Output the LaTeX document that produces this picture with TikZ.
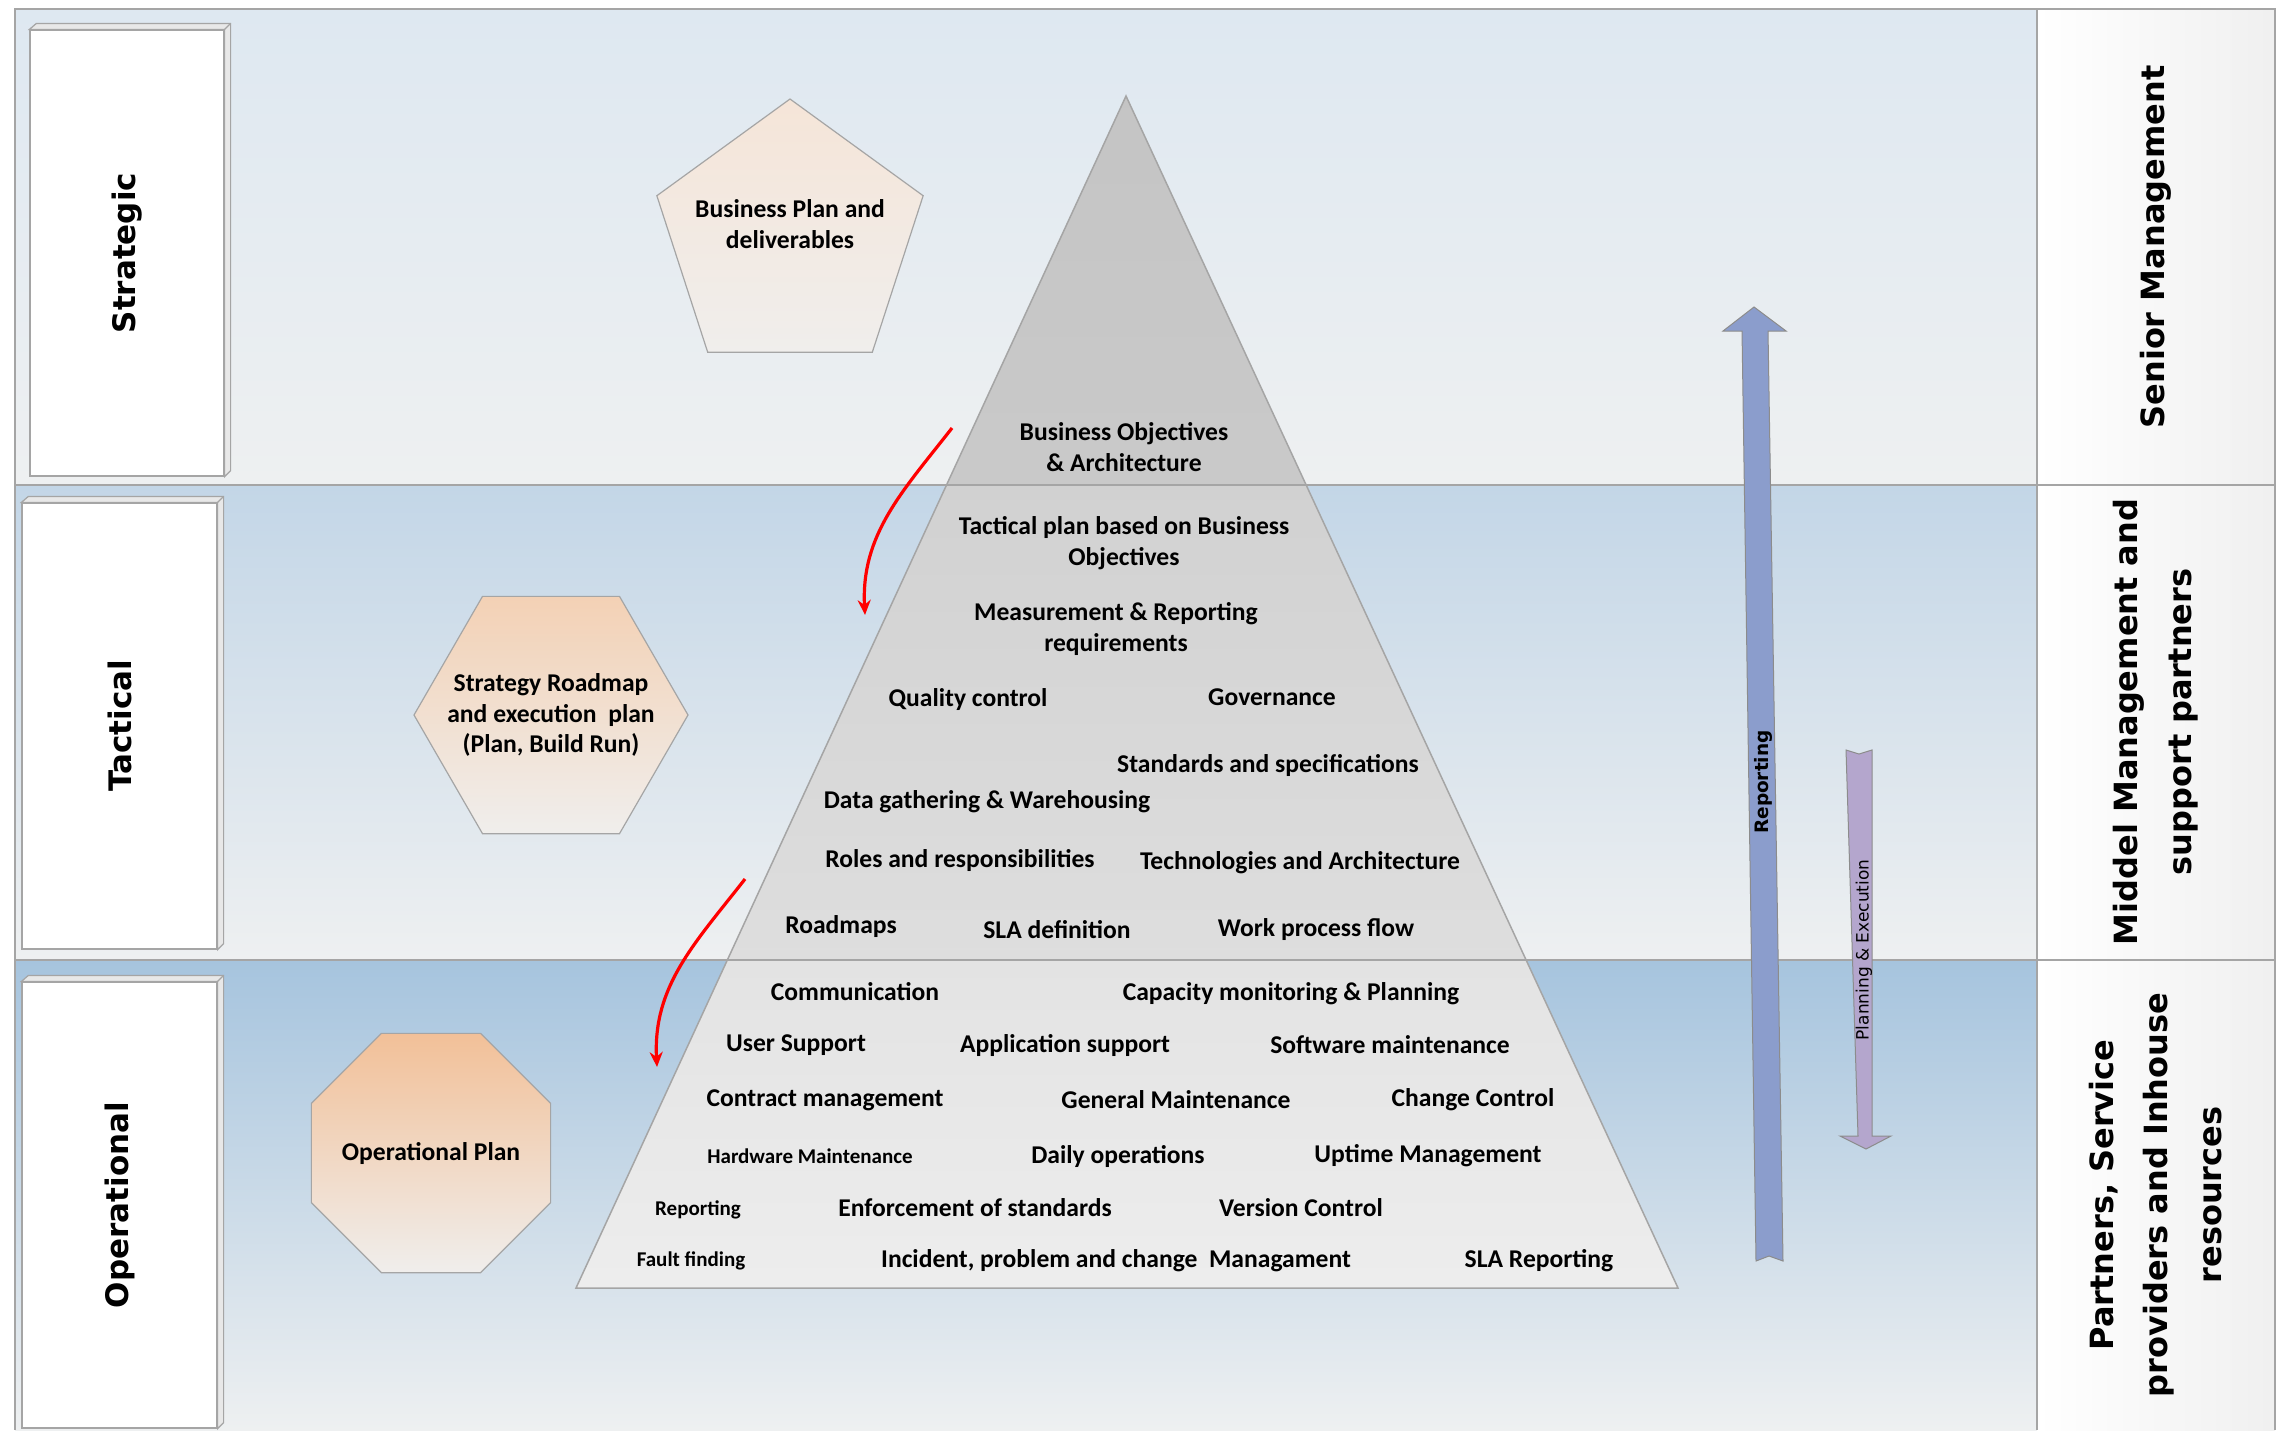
\documentclass[tikz,border=0pt]{standalone}
\usepackage{fontspec}
\setmainfont{Carlito}
\newfontfamily\verdfont{DejaVu Sans}
\usetikzlibrary{positioning,calc,shapes,arrows.meta}

\definecolor{bandTopS}{RGB}{222,232,241}
\definecolor{bandTopT}{RGB}{195,214,231}
\definecolor{bandTopO}{RGB}{166,196,222}
\definecolor{bandLow}{RGB}{238,240,241}
\definecolor{lineGray}{RGB}{165,165,165}
\definecolor{reportBlue}{RGB}{139,157,204}
\definecolor{planPurple}{RGB}{180,166,205}
\definecolor{peachA}{RGB}{245,229,216}
\definecolor{peachB}{RGB}{243,209,181}
\definecolor{peachC}{RGB}{242,192,152}
\definecolor{peachLow}{RGB}{240,238,236}

\tikzset {
    style Box/.style={
        fill=white,
        draw=lineGray,
        line width=1.2pt,
        rectangle, % Set the shape as a rectangle
        minimum width=194pt,
        minimum height=446pt,
    },
    style Bevel/.style={
        fill=black!9,
        draw=lineGray,
        line width=1.2pt,
    },
    style Level/.style={
        font=\verdfont\bfseries\fontsize{31}{37}\selectfont,
        rotate=90,
    },
    style Role/.style={
        font=\verdfont\bfseries\fontsize{32}{54}\selectfont,
        rotate=90,
        align=center,
    },
    style Plan/.style={
        draw=lineGray,
        line width=1.2pt,
        regular polygon, % Set the shape as a regular polygon
        inner sep=0pt,
        bottom color=peachLow,
    },
    style Item/.style={
        font=\bfseries\fontsize{25.6}{30.6}\selectfont,
        inner sep=0pt,
        align=center,
    },
    style Small/.style={
        font=\bfseries\fontsize{21}{25}\selectfont,
        inner sep=0pt,
    },
    style Tag/.style={
        font=\verdfont\bfseries\fontsize{18.5}{22}\selectfont,
        inner sep=0pt,
        rotate=90,
    },
    style Pole/.style={
        draw=black!45,
        line width=1pt,
    },
    style Flow/.style={
        draw=red,
        line width=3.2pt,
        -{Stealth[length=15pt,width=13pt]},
    },
}

\begin{document}
\begin{tikzpicture}[x=1pt, y=1pt]
\useasboundingbox (0,0) rectangle (2285,-1430);
\fill[white] (0,0) rectangle (2285,-1430);

\shade[top color=bandTopS, bottom color=bandLow] (15,-9) rectangle (2037,-485);
\shade[top color=bandTopT, bottom color=bandLow] (15,-485) rectangle (2037,-960);
\shade[top color=bandTopO, bottom color=bandLow] (15,-960) rectangle (2037,-1430);
\shade[left color=white, right color=black!6] (2037,-9) rectangle (2275,-1430);

\coordinate (apex) at (1126,-96);
\coordinate (baseL) at (576,-1288);
\coordinate (baseR) at (1678,-1288);
\coordinate (cutL1) at ($(apex)!0.3263!(baseL)$);
\coordinate (cutR1) at ($(apex)!0.3263!(baseR)$);
\coordinate (cutL2) at ($(apex)!0.7248!(baseL)$);
\coordinate (cutR2) at ($(apex)!0.7248!(baseR)$);
\shade[top color=black!23, bottom color=black!21] (apex) -- (cutR1) -- (cutL1) -- cycle;
\shade[top color=black!18, bottom color=black!13] (cutL1) -- (cutR1) -- (cutR2) -- (cutL2) -- cycle;
\shade[top color=black!11, bottom color=black!7] (cutL2) -- (cutR2) -- (baseR) -- (baseL) -- cycle;
\draw[lineGray, line width=1.5pt] (apex) -- (baseR) -- (baseL) -- cycle;

\draw[lineGray, line width=2pt] (15,-485) -- (2275,-485);
\draw[lineGray, line width=2pt] (15,-960) -- (2275,-960);
\draw[lineGray, line width=1.5pt] (2037,-9) -- (2037,-1430);
\draw[lineGray, line width=1.5pt] (15,-1430) -- (15,-9) -- (2275,-9) -- (2275,-1430);

\node[style Box] (strategicBox) at (127,-253) {};
\node[style Box, minimum width=195pt] (tacticalBox) at (119.5,-726) {};
\node[style Box, minimum width=195pt] (operationalBox) at (119.5,-1205) {};
\draw[style Bevel] (strategicBox.north west) -- ++(7,6) -| ([shift={(6,6)}]strategicBox.south east) -- (strategicBox.south east) -- (strategicBox.north east) -- cycle;
\draw[style Bevel] (tacticalBox.north west) -- ++(7,6) -| ([shift={(6,6)}]tacticalBox.south east) -- (tacticalBox.south east) -- (tacticalBox.north east) -- cycle;
\draw[style Bevel] (operationalBox.north west) -- ++(7,6) -| ([shift={(6,6)}]operationalBox.south east) -- (operationalBox.south east) -- (operationalBox.north east) -- cycle;
\draw[lineGray, line width=1.2pt] (strategicBox.north east) -- ++(6,6);
\draw[lineGray, line width=1.2pt] (tacticalBox.north east) -- ++(6,6);
\draw[lineGray, line width=1.2pt] (operationalBox.north east) -- ++(6,6);
\node[style Level] (strategic) at (strategicBox) {Strategic};
\node[style Level] (tactical) at (tacticalBox) {Tactical};
\node[style Level] (operational) at (operationalBox) {Operational};

\node[style Role] (senior) at (2156,-247) {Senior Management};
\node[style Role] (middel) at (2156,-722) {Middel Management and\\support partners};
\node[style Role] (partners) at (2156,-1195) {Partners, Service\\providers and Inhouse\\resources};

\node[style Plan, regular polygon sides=5, minimum size=280pt, top color=peachA] (bizPlan) at (790,-239) {};
\node[style Item] (bizPlanText) at (790,-224) {Business Plan and\\deliverables};
\node[style Plan, regular polygon sides=6, minimum size=274pt, top color=peachB] (roadmapPlan) at (551,-715) {};
\node[style Item] (roadmapText) at (roadmapPlan) {Strategy Roadmap\\and execution\ \ plan\\(Plan, Build Run)};
\node[style Plan, regular polygon sides=8, minimum size=259pt, top color=peachC] (opPlan) at (431,-1153) {};
\node[style Item] (opPlanText) at (opPlan) {Operational Plan};

\node[style Item] (bizObj) at (1124,-447) {Business Objectives\\\& Architecture};
\node[style Item] (tactPlan) at (1124,-543) {Tactical plan based on Business\\Objectives};
\node[style Item] (measReq) at (1116,-629) {Measurement \& Reporting\\requirements};
\node[style Item] (qualCtrl) at (968,-700) {Quality control};
\node[style Item] (governance) at (1272,-697) {Governance};
\node[style Item] (standards) at (1268,-765) {Standards and specifications};
\node[style Item] (dataGather) at (987,-802) {Data gathering \& Warehousing};
\node[style Item] (roles) at (960,-860) {Roles and responsibilities};
\node[style Item] (techArch) at (1300,-863) {Technologies and Architecture};
\node[style Item] (roadmaps) at (841,-927) {Roadmaps};
\node[style Item] (slaDef) at (1057,-930) {SLA definition};
\node[style Item] (workFlow) at (1316,-930) {Work process flow};
\node[style Item] (comm) at (855,-992) {Communication};
\node[style Item] (capacity) at (1291,-994) {Capacity monitoring \& Planning};
\node[style Item] (userSupport) at (796,-1045) {User Support};
\node[style Item] (appSupport) at (1065,-1045) {Application support};
\node[style Item] (swMaint) at (1390,-1045) {Software maintenance};
\node[style Item] (contract) at (825,-1100) {Contract management};
\node[style Item] (genMaint) at (1176,-1100) {General Maintenance};
\node[style Item] (changeCtrl) at (1473,-1100) {Change Control};
\node[style Small] (hwMaint) at (810,-1156) {Hardware Maintenance};
\node[style Item] (dailyOps) at (1118,-1156) {Daily operations};
\node[style Item] (uptime) at (1428,-1156) {Uptime Management};
\node[style Small] (reportSmall) at (698,-1210) {Reporting};
\node[style Item] (enforce) at (975,-1208) {Enforcement of standards};
\node[style Item] (versionCtrl) at (1301,-1208) {Version Control};
\node[style Small] (faultFind) at (691,-1261) {Fault finding};
\node[style Item] (incident) at (1116,-1261) {Incident, problem and change\ \ Managament};
\node[style Item] (slaRep) at (1539,-1261) {SLA Reporting};

\draw[style Pole, fill=reportBlue] (1754,-307) -- (1786,-331) -- (1768,-331) -- (1783,-1261) -- (1769,-1256) -- (1756,-1261) -- (1742,-331) -- (1723,-331) -- cycle;
\node[style Tag] (reporting) at (1763,-782) {Reporting};
\draw[style Pole, fill=planPurple] (1846,-750) -- (1859,-754) -- (1872,-750) -- (1872,-1136) -- (1891,-1136) -- (1866,-1149) -- (1840,-1136) -- (1858,-1136) -- cycle;
\node[style Tag, font=\verdfont\fontsize{17}{20}\selectfont] (planning) at (1864,-950) {Planning \& Execution};

\coordinate (flowA) at (952,-428);
\coordinate (flowB) at (865,-615);
\coordinate (flowC) at (745,-879);
\coordinate (flowD) at (657,-1067);
\draw[style Flow] (flowA) to[out=232, in=93] (flowB);
\draw[style Flow] (flowC) to[out=232, in=93] (flowD);
\end{tikzpicture}
\end{document}
